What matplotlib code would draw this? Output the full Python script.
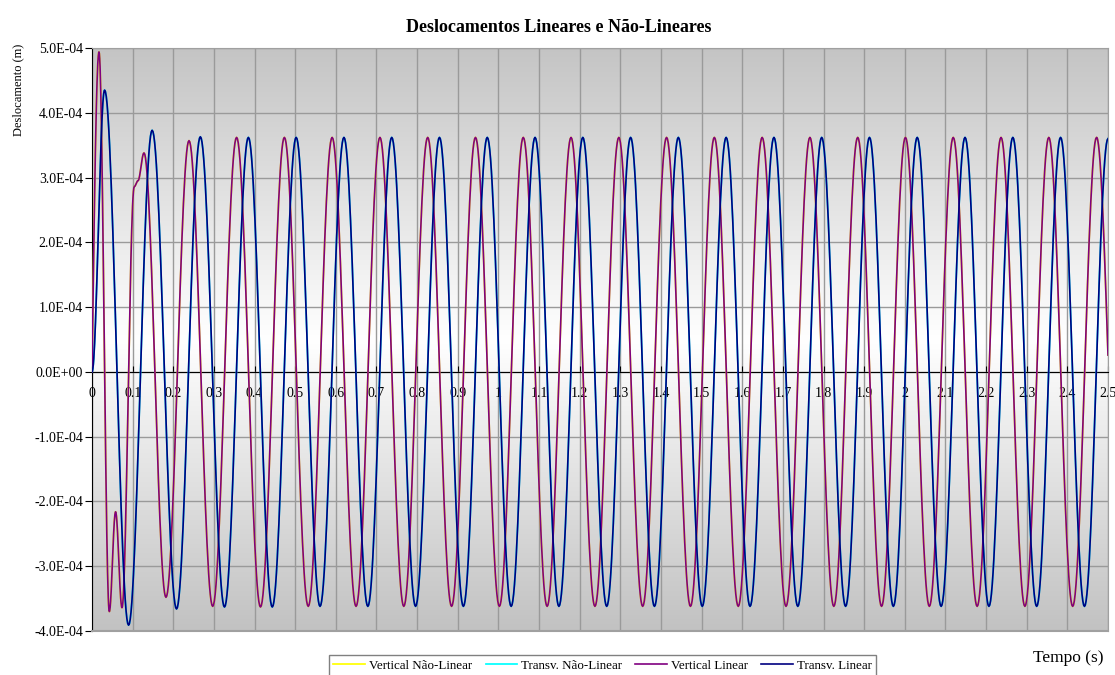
import numpy as np
import matplotlib
matplotlib.use("Agg")
import matplotlib.pyplot as plt
from matplotlib.colors import LinearSegmentedColormap

plt.rcParams['font.family'] = ['Liberation Serif', 'DejaVu Serif']

# Turning points of each response (time in s, displacement in 1e-4 m)
vert_lin_t = [0.0, 0.0172, 0.0426, 0.058, 0.0738, 0.104, 0.113, 0.128, 0.182, 0.2387,
              0.297, 0.3558, 0.4146, 0.4734, 0.5321, 0.5909, 0.6497, 0.7085, 0.7672, 0.8260,
              0.8848, 0.9436, 1.0024, 1.0612, 1.1199, 1.1787, 1.2375, 1.2963, 1.3550, 1.4138,
              1.4726, 1.5314, 1.5902, 1.6490, 1.7077, 1.7665, 1.8253, 1.8841, 1.9428, 2.0016,
              2.0604, 2.1192, 2.1780, 2.2368, 2.2955, 2.3543, 2.4131, 2.4719, 2.5]
vert_lin_v = [0.0, 4.94, -3.70, -2.16, -3.64, 2.86, 2.95, 3.38, -3.48, 3.57,
              -3.62, 3.62, -3.63, 3.62, -3.62, 3.62, -3.62, 3.62, -3.62, 3.62,
              -3.62, 3.62, -3.62, 3.62, -3.62, 3.62, -3.62, 3.62, -3.62, 3.62,
              -3.62, 3.62, -3.62, 3.62, -3.62, 3.62, -3.62, 3.62, -3.62, 3.62,
              -3.62, 3.62, -3.62, 3.62, -3.62, 3.62, -3.62, 3.62, 0.26]

transv_lin_t = [0.0, 0.031, 0.090, 0.148, 0.208, 0.2666, 0.326, 0.3848, 0.4436, 0.5024,
                0.5611, 0.6199, 0.6787, 0.7375, 0.7962, 0.8550, 0.9138, 0.9726, 1.0314, 1.0902,
                1.1489, 1.2077, 1.2665, 1.3253, 1.3840, 1.4428, 1.5016, 1.5604, 1.6192, 1.6780,
                1.7367, 1.7955, 1.8543, 1.9131, 1.9718, 2.0306, 2.0894, 2.1482, 2.2070, 2.2658,
                2.3245, 2.3833, 2.4421, 2.5]
transv_lin_v = [0.0, 4.35, -3.91, 3.73, -3.66, 3.63, -3.63, 3.62, -3.63, 3.62,
                -3.62, 3.62, -3.62, 3.62, -3.62, 3.62, -3.62, 3.62, -3.62, 3.62,
                -3.62, 3.62, -3.62, 3.62, -3.62, 3.62, -3.62, 3.62, -3.62, 3.62,
                -3.62, 3.62, -3.62, 3.62, -3.62, 3.62, -3.62, 3.62, -3.62, 3.62,
                -3.62, 3.62, -3.62, 3.60]

# The non-linear responses coincide with the linear ones at this scale
vert_nl_t, vert_nl_v = vert_lin_t, vert_lin_v
transv_nl_t, transv_nl_v = transv_lin_t, transv_lin_v

series_names = ["Vertical Não-Linear", "Transv. Não-Linear", "Vertical Linear", "Transv. Linear"]
x_ticks = [round(0.1 * i, 1) for i in range(26)]
y_ticks = [-4e-4, -3e-4, -2e-4, -1e-4, 0.0, 1e-4, 2e-4, 3e-4, 4e-4, 5e-4]
unit = 1e-4


def smooth_line(tk, vk, steep_start=False, steep_end=False, n=30):
    """Join turning points with smooth cosine arcs (like a smoothed line)."""
    ts, vs = [], []
    last = len(tk) - 2
    for i in range(len(tk) - 1):
        s = np.linspace(0.0, 1.0, n)
        if i == 0 and steep_start:
            w = np.sin(np.pi / 2 * s)
        elif i == last and steep_end:
            w = 1 - np.cos(np.pi / 2 * s)
        else:
            w = (1 - np.cos(np.pi * s)) / 2
        ts.append(tk[i] + (tk[i + 1] - tk[i]) * s)
        vs.append(vk[i] + (vk[i + 1] - vk[i]) * w)
    return np.concatenate(ts), np.concatenate(vs) * unit


fig = plt.figure(figsize=(11.15, 6.75), dpi=100)
ax = fig.add_axes([92 / 1115, 1 - 631 / 675, 1016 / 1115, 583 / 675])

# Gradient background: grey at top and bottom, white in the middle
cmap = LinearSegmentedColormap.from_list("bg", [(0.76, 0.76, 0.76), (1, 1, 1), (0.77, 0.77, 0.77)])
grad = np.linspace(0, 1, 256).reshape(-1, 1)
ax.imshow(grad, cmap=cmap, aspect='auto', extent=[0, 2.5, 5e-4, -4e-4],
          origin='upper', zorder=0, interpolation='bilinear')

ax.set_xlim(0, 2.5)
ax.set_ylim(-4e-4, 5e-4)

ax.set_xticks(x_ticks)
ax.set_xticklabels([f"{v:g}" for v in x_ticks])
ax.set_yticks(y_ticks)
ax.set_yticklabels([f"{v:.1E}" for v in y_ticks])

ax.grid(True, color='#9a9a9a', lw=1.0, zorder=1)
ax.set_axisbelow(True)

ax.spines['bottom'].set_position(('data', 0))
ax.spines['bottom'].set_color('black')
ax.spines['left'].set_color('black')
for side in ('top', 'right'):
    ax.spines[side].set_color('#a0a0a0')
ax.axhline(-4e-4, color='#a0a0a0', lw=1.5, zorder=3, clip_on=False)

ax.tick_params(axis='x', direction='in', length=4, pad=11, labelsize=10, color='black')
ax.tick_params(axis='y', direction='out', length=5, pad=1.5, labelsize=10, color='black')

vx, vy = smooth_line(vert_nl_t, vert_nl_v, steep_start=True, steep_end=True)
tx, ty = smooth_line(transv_nl_t, transv_nl_v)
ax.plot(vx, vy, color='#ffff00', lw=1.25, zorder=4, label=series_names[0])
ax.plot(tx, ty, color='#00ffff', lw=1.25, zorder=4, label=series_names[1])

vx, vy = smooth_line(vert_lin_t, vert_lin_v, steep_start=True, steep_end=True)
tx, ty = smooth_line(transv_lin_t, transv_lin_v)
ax.plot(vx, vy, color='#800080', lw=1.2, zorder=5, label=series_names[2])
ax.plot(tx, ty, color='#000080', lw=1.2, zorder=5, label=series_names[3])

fig.text(559 / 1115, 1 - 27 / 675, "Deslocamentos Lineares e Não-Lineares",
         ha='center', va='center', fontsize=13, fontweight='bold')
fig.text(18 / 1115, 1 - 90 / 675, "Deslocamento (m)", rotation=90,
         ha='center', va='center', fontsize=9)
fig.text(1068 / 1115, 1 - 658 / 675, "Tempo (s)", ha='center', va='center', fontsize=12.5)

leg = fig.legend(loc='upper center', bbox_to_anchor=(602.5 / 1115, 1 - 655 / 675),
                 ncol=4, fontsize=9.4, frameon=True, fancybox=False, framealpha=1,
                 edgecolor='#808080', handlelength=2.4, columnspacing=1.05,
                 handletextpad=0.3, borderpad=0.35, borderaxespad=0)
leg.get_frame().set_linewidth(1.0)

fig.savefig("out.png", dpi=100)
